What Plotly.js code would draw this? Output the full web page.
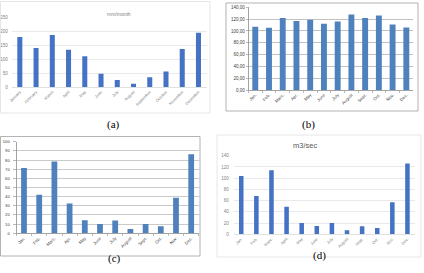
<!DOCTYPE html>
<html>
<head>
<meta charset="utf-8">
<script src="https://cdn.plot.ly/plotly-3.0.1.min.js"></script>
<style>
  html, body { margin: 0; padding: 0; background: #fff; }
  #chart { width: 424px; height: 273px; }
</style>
</head>
<body>
<div id="chart"></div>
<script>
// Category labels for each panel
const monthsLong = ["January", "February", "March", "April", "May", "June", "July",
  "August", "September", "October", "November", "December"];
const monthsShortB = ["Jan.", "Feb.", "Marc.", "Apr.", "May", "June", "July",
  "August", "Sept.", "Oct.", "Nov.", "Dec."];
const monthsShortC = ["Jan.", "Feb.", "Marc.", "Apr.", "May", "June", "July",
  "August", "Sept.", "Oct.", "Nov.", "Dec."];
const monthsShortD = ["Jan.", "Feb.", "Marc.", "April", "May", "June", "July",
  "August", "Sept.", "Oct.", "Nov.", "Dec."];

// Monthly series
const rainfallA = [180, 140, 187, 134, 111, 48, 26, 13, 36, 56, 137, 195];
const seriesB = [107, 105.5, 122, 117, 119, 112, 116, 128, 122, 126, 111, 106];
const seriesC = [71.4, 42.2, 78.3, 32.5, 14.2, 10.1, 13.9, 4.7, 10.2, 7.6, 38.9, 86.3];
const flowD = [104, 68, 114, 49, 20, 15, 20, 7, 14.5, 11, 57, 126];

// Axis ranges / tick steps
const yTicksA = [0, 50, 100, 150, 200, 250];
const yTicksB = [0, 20, 40, 60, 80, 100, 120, 140];
const yTicksC = [0, 10, 20, 30, 40, 50, 60, 70, 80, 90, 100];
const yTicksD = [0, 20, 40, 60, 80, 100, 120, 140];

const W = 424, H = 273;
const px = x => x / W;
const py = y => 1 - y / H;

const blueNew = "#4472c4";
const blueOld = "#4f81bd";
const baseFont = "Liberation Sans, Arial, sans-serif";

const traces = [
  { type: "bar", x: monthsLong, y: rainfallA, xaxis: "x", yaxis: "y",
    marker: { color: blueNew }, width: 0.31, hoverinfo: "none" },
  { type: "bar", x: monthsShortB, y: seriesB, xaxis: "x2", yaxis: "y2",
    marker: { color: blueOld }, width: 0.43, hoverinfo: "none" },
  { type: "bar", x: monthsShortC, y: seriesC, xaxis: "x3", yaxis: "y3",
    marker: { color: blueOld }, width: 0.38, hoverinfo: "none" },
  { type: "bar", x: monthsShortD, y: flowD, xaxis: "x4", yaxis: "y4",
    marker: { color: blueNew }, width: 0.3, hoverinfo: "none" }
];

function xAxis(domain, anchor, opts) {
  return Object.assign({
    domain: domain, anchor: anchor, type: "category",
    tickangle: -45, showgrid: false, zeroline: false,
    fixedrange: true, automargin: false
  }, opts);
}
function yAxis(domain, anchor, range, ticks, opts) {
  return Object.assign({
    domain: domain, anchor: anchor, range: range,
    tickmode: "array", tickvals: ticks,
    zeroline: false, fixedrange: true, automargin: false
  }, opts);
}

const layout = {
  width: W, height: H,
  margin: { l: 0, r: 0, t: 0, b: 0 },
  paper_bgcolor: "#ffffff",
  plot_bgcolor: "rgba(0,0,0,0)",
  showlegend: false,
  separators: ",.",
  font: { family: baseFont, color: "#595959" },

  // (a) mm/month
  xaxis: xAxis([px(11.7), px(206.6)], "y", {
    tickfont: { size: 4, color: "#7f7f7f" },
    showline: true, linecolor: "#d9d9d9", linewidth: 0.8, ticks: ""
  }),
  yaxis: yAxis([py(87.3), py(17.3)], "x", [0, 250], yTicksA, {
    tickfont: { size: 4.5, color: "#7f7f7f" },
    showgrid: true, gridcolor: "#e3e3e3", gridwidth: 0.8,
    showline: false, ticks: "", ticklabelstandoff: 3
  }),

  // (b)
  xaxis2: xAxis([px(248.4), px(413.2)], "y2", {
    tickfont: { size: 4.3, color: "#404040" },
    showline: true, linecolor: "#8c8c8c", linewidth: 0.8,
    ticks: "outside", ticklen: 2, tickcolor: "#8c8c8c", tickwidth: 0.6,
    tickson: "boundaries"
  }),
  yaxis2: yAxis([py(90), py(7.3)], "x2", [0, 140], yTicksB, {
    tickformat: ".2f",
    tickfont: { size: 4.5, color: "#404040" },
    showgrid: true, gridcolor: "#9a9a9a", gridwidth: 0.6,
    showline: true, linecolor: "#8c8c8c", linewidth: 0.8,
    ticks: "outside", ticklen: 2, tickcolor: "#8c8c8c", tickwidth: 0.6
  }),

  // (c)
  xaxis3: xAxis([px(16.4), px(198.8)], "y3", {
    tickfont: { size: 4.3, color: "#404040" },
    showline: true, linecolor: "#8c8c8c", linewidth: 0.8,
    ticks: "outside", ticklen: 2, tickcolor: "#8c8c8c", tickwidth: 0.6,
    tickson: "boundaries"
  }),
  yaxis3: yAxis([py(233.3), py(141.7)], "x3", [0, 100], yTicksC, {
    tickfont: { size: 4.2, color: "#404040" },
    showgrid: true, gridcolor: "#a6a6a6", gridwidth: 0.6,
    showline: true, linecolor: "#8c8c8c", linewidth: 0.8,
    ticks: "outside", ticklen: 3, tickcolor: "#8c8c8c", tickwidth: 0.6,
    ticklabelstandoff: 2
  }),

  // (d) m3/sec
  xaxis4: xAxis([px(233.7), px(415)], "y4", {
    tickfont: { size: 4, color: "#7f7f7f" },
    showline: true, linecolor: "#d9d9d9", linewidth: 0.8, ticks: ""
  }),
  yaxis4: yAxis([py(234.3), py(155.7)], "x4", [0, 140], yTicksD, {
    tickfont: { size: 4.5, color: "#7f7f7f" },
    showgrid: true, gridcolor: "#e3e3e3", gridwidth: 0.8,
    showline: false, ticks: "", ticklabelstandoff: 4
  }),

  shapes: [
    // chart frames
    { type: "rect", xref: "paper", yref: "paper",
      x0: px(0.5), x1: px(210), y0: py(113), y1: py(1.5),
      line: { color: "#e0e0e0", width: 0.8 } },
    { type: "rect", xref: "paper", yref: "paper",
      x0: px(226), x1: px(418), y0: py(111), y1: py(3),
      line: { color: "#a0a0a0", width: 0.8 } },
    { type: "rect", xref: "paper", yref: "paper",
      x0: px(0.5), x1: px(200), y0: py(256), y1: py(136.5),
      line: { color: "#a0a0a0", width: 0.8 } },
    { type: "rect", xref: "paper", yref: "paper",
      x0: px(217), x1: px(421), y0: py(257), y1: py(135),
      line: { color: "#e0e0e0", width: 0.8 } }
  ],

  annotations: [
    { text: "mm/month", xref: "paper", yref: "paper", x: px(105), y: py(9),
      showarrow: false, font: { size: 5, color: "#7f7f7f" } },
    { text: "m3/sec", xref: "paper", yref: "paper", x: px(319), y: py(145),
      showarrow: false, font: { size: 7.5, color: "#595959" } },
    { text: "(a)", xref: "paper", yref: "paper", x: px(105), y: py(125),
      showarrow: false, font: { family: "Liberation Serif, serif", size: 11, color: "#000" } },
    { text: "(b)", xref: "paper", yref: "paper", x: px(317), y: py(125),
      showarrow: false, font: { family: "Liberation Serif, serif", size: 11, color: "#000" } },
    { text: "(c)", xref: "paper", yref: "paper", x: px(106), y: py(266.5),
      showarrow: false, font: { family: "Liberation Serif, serif", size: 11, color: "#000" } },
    { text: "(d)", xref: "paper", yref: "paper", x: px(328), y: py(264),
      showarrow: false, font: { family: "Liberation Serif, serif", size: 11, color: "#000" } }
  ]
};

Plotly.newPlot("chart", traces, layout, { staticPlot: true, displayModeBar: false });
</script>
</body>
</html>
